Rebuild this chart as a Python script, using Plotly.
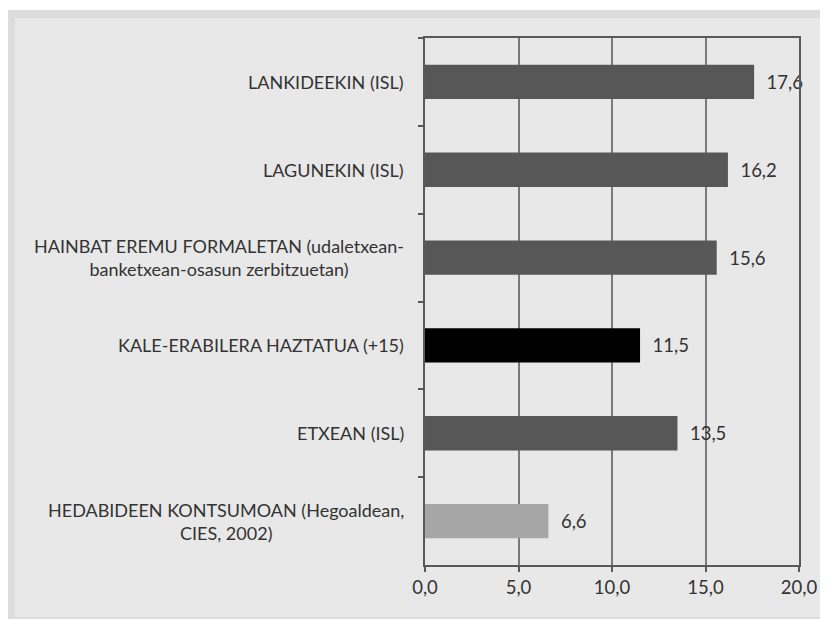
import plotly.graph_objects as go

categories = [
    "LANKIDEEKIN (ISL)",
    "LAGUNEKIN (ISL)",
    "HAINBAT EREMU FORMALETAN (udaletxean-<br>banketxean-osasun zerbitzuetan)",
    "KALE-ERABILERA HAZTATUA (+15)",
    "ETXEAN (ISL)",
    "HEDABIDEEN KONTSUMOAN (Hegoaldean,<br>CIES, 2002)",
]
values = [17.6, 16.2, 15.6, 11.5, 13.5, 6.6]
bar_colors = ["#575757", "#575757", "#575757", "#000000", "#575757", "#a6a6a6"]
x_ticks = [0, 5, 10, 15, 20]

W, H = 828, 619
OFF = 8  # page body margin
L, R, T, B = 425 - OFF, 828 - (799 - OFF), 38 - OFF, 619 - (565 - OFF)
FONT = "Lato"
TXT = "#333333"

fig = go.Figure()
fig.add_trace(go.Bar(
    x=values, y=categories, orientation="h",
    marker=dict(color=bar_colors, line=dict(width=0)),
    text=values, texttemplate="\u00a0\u00a0%{x:.1f}", textposition="outside",
    textfont=dict(family=FONT, size=18.5, color=TXT),
    cliponaxis=False, width=0.39,
))

def px2paper_x(px):
    return (px - OFF - L) / (W - L - R)

def px2paper_y(py):
    return (H - B - (py - OFF)) / (H - T - B)

shapes = [
    dict(type="rect", xref="paper", yref="paper", layer="below",
         x0=px2paper_x(7), x1=px2paper_x(850), y0=px2paper_y(10), y1=px2paper_y(619),
         fillcolor="#dcdcdc", line=dict(width=0)),
    dict(type="rect", xref="paper", yref="paper", layer="below",
         x0=px2paper_x(15), x1=px2paper_x(850), y0=px2paper_y(18), y1=px2paper_y(617),
         fillcolor="#e8e8e8", line=dict(width=0)),
]

annotations = [
    dict(text=c, x=0, xref="paper", y=c, yref="y", xanchor="right", yanchor="middle",
         xshift=-19, align="center", showarrow=False,
         font=dict(family=FONT, size=18, color=TXT))
    for c in categories
]

fig.update_layout(
    width=W, height=H, margin=dict(l=L, r=R, t=T, b=B, pad=0),
    paper_bgcolor="white", plot_bgcolor="white",
    separators=",.", showlegend=False, shapes=shapes, annotations=annotations,
    bargap=0.61,
    xaxis=dict(range=[0, 20], tickvals=x_ticks, tickformat=".1f",
               showgrid=True, gridcolor="#7a7a7a", gridwidth=1.5,
               showline=True, linecolor="#595959", linewidth=2, mirror=True,
               ticks="outside", ticklen=5, tickcolor="#595959", tickwidth=1.5,
               tickfont=dict(family=FONT, size=18.5, color=TXT), zeroline=False),
    yaxis=dict(autorange="reversed", showticklabels=False,
               showline=True, linecolor="#595959", linewidth=2, mirror=True,
               ticks="outside", ticklen=5, tickcolor="#595959", tickwidth=1.5,
               tickson="boundaries", showgrid=False),
)

fig.write_html("out.html")
